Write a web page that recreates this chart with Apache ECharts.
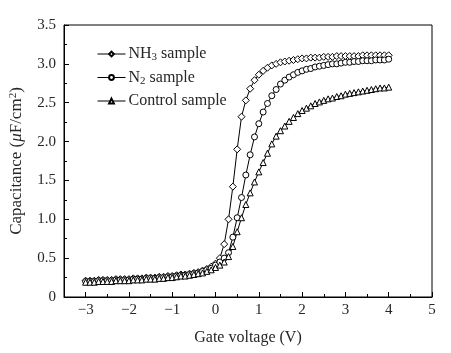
<!DOCTYPE html>
<html>
<head>
<meta charset="utf-8">
<script src="https://cdn.jsdelivr.net/npm/echarts@6/dist/echarts.min.js"></script>
<style>
  html, body { margin: 0; padding: 0; background: #fff; }
  #main { width: 451px; height: 353px; }
</style>
</head>
<body>
<div id="main"></div>
<script>
// gate voltage (V)
var voltages = [
  -3.0, -2.9, -2.8, -2.7, -2.6, -2.5, -2.4, -2.3, -2.2, -2.1,
  -2.0, -1.9, -1.8, -1.7, -1.6, -1.5, -1.4, -1.3, -1.2, -1.1,
  -1.0, -0.9, -0.8, -0.7, -0.6, -0.5, -0.4, -0.3, -0.2, -0.1,
  0.0, 0.1, 0.2, 0.3, 0.4, 0.5, 0.6, 0.7, 0.8, 0.9,
  1.0, 1.1, 1.2, 1.3, 1.4, 1.5, 1.6, 1.7, 1.8, 1.9,
  2.0, 2.1, 2.2, 2.3, 2.4, 2.5, 2.6, 2.7, 2.8, 2.9,
  3.0, 3.1, 3.2, 3.3, 3.4, 3.5, 3.6, 3.7, 3.8, 3.9,
  4.0
];

// capacitance (uF/cm2)
var nh3 = [
  0.21, 0.21, 0.21, 0.22, 0.22, 0.22, 0.22, 0.23, 0.23, 0.23,
  0.23, 0.24, 0.24, 0.24, 0.25, 0.25, 0.25, 0.26, 0.26, 0.27,
  0.27, 0.28, 0.29, 0.29, 0.30, 0.31, 0.32, 0.34, 0.36, 0.39,
  0.43, 0.50, 0.68, 1.00, 1.42, 1.90, 2.32, 2.53, 2.68, 2.79,
  2.86, 2.91, 2.95, 2.98, 3.00, 3.02, 3.03, 3.04, 3.05, 3.06,
  3.07, 3.07, 3.08, 3.08, 3.08, 3.09, 3.09, 3.09, 3.10, 3.10,
  3.10, 3.10, 3.10, 3.10, 3.11, 3.11, 3.11, 3.11, 3.11, 3.11,
  3.11
];
var n2 = [
  0.20, 0.20, 0.20, 0.21, 0.21, 0.21, 0.21, 0.22, 0.22, 0.22,
  0.22, 0.23, 0.23, 0.23, 0.24, 0.24, 0.24, 0.25, 0.25, 0.26,
  0.26, 0.27, 0.28, 0.28, 0.29, 0.30, 0.31, 0.33, 0.35, 0.37,
  0.41, 0.45, 0.50, 0.57, 0.77, 1.02, 1.28, 1.57, 1.83, 2.06,
  2.23, 2.38, 2.49, 2.59, 2.67, 2.74, 2.79, 2.83, 2.86, 2.89,
  2.91, 2.93, 2.94, 2.96, 2.97, 2.98, 2.99, 3.00, 3.00, 3.01,
  3.02, 3.02, 3.03, 3.03, 3.04, 3.04, 3.04, 3.05, 3.05, 3.05,
  3.06
];
var control = [
  0.19, 0.19, 0.19, 0.20, 0.20, 0.20, 0.20, 0.21, 0.21, 0.21,
  0.21, 0.22, 0.22, 0.22, 0.23, 0.23, 0.23, 0.24, 0.24, 0.25,
  0.25, 0.26, 0.27, 0.27, 0.28, 0.29, 0.30, 0.31, 0.33, 0.35,
  0.38, 0.41, 0.45, 0.52, 0.65, 0.84, 1.02, 1.19, 1.34, 1.48,
  1.61, 1.73, 1.85, 1.97, 2.07, 2.14, 2.20, 2.26, 2.31, 2.36,
  2.40, 2.43, 2.46, 2.49, 2.51, 2.53, 2.55, 2.56, 2.58, 2.59,
  2.61, 2.62, 2.63, 2.64, 2.65, 2.66, 2.67, 2.68, 2.69, 2.69,
  2.70
];

var xMajor = [-3, -2, -1, 0, 1, 2, 3, 4, 5];
var xMinor = [-2.5, -1.5, -0.5, 0.5, 1.5, 2.5, 3.5, 4.5];

var font = 'Liberation Serif';
var ink = '#262626';

function pairs(ys) {
  return voltages.map(function (v, i) { return [v, ys[i]]; });
}

function makeSeries(name, ys, symbol, size) {
  return {
    name: name,
    type: 'line',
    data: pairs(ys),
    symbol: symbol,
    symbolSize: size,
    showAllSymbol: true,
    lineStyle: { color: '#000', width: 1 },
    itemStyle: { color: '#fff', borderColor: '#000', borderWidth: 1 },
    animation: false
  };
}

var chart = echarts.init(document.getElementById('main'));

var option = {
  backgroundColor: '#fff',
  animation: false,
  grid: {
    left: 62, right: 19, top: 25, bottom: 56,
    show: true, borderColor: '#000', borderWidth: 1
  },
  legend: {
    orient: 'vertical',
    left: 92, top: 40,
    itemWidth: 28, itemHeight: 6, itemGap: 5.5,
    lineStyle: { width: 1, color: '#000' },
    textStyle: {
      fontFamily: font, fontSize: 16, lineHeight: 18, color: ink, padding: [0, 0, 0, -2],
      rich: {
        sub: { fontFamily: font, fontSize: 11, color: ink, verticalAlign: 'bottom', padding: [7, 0, 0, 0] }
      }
    },
    formatter: function (name) {
      if (name === 'NH3 sample') return 'NH{sub|3} sample';
      if (name === 'N2 sample') return 'N{sub|2} sample';
      return name;
    },
    data: ['NH3 sample', 'N2 sample', 'Control sample']
  },
  xAxis: [{
    type: 'value',
    min: -3.5, max: 5,
    name: 'Gate voltage (V)',
    nameLocation: 'middle',
    nameGap: 33,
    nameTextStyle: { fontFamily: font, fontSize: 16, color: ink },
    axisLine: { lineStyle: { color: '#000' } },
    axisTick: { inside: true, length: 5, customValues: xMajor, lineStyle: { color: '#000' } },
    axisLabel: {
      customValues: xMajor,
      fontFamily: font, fontSize: 15, color: ink, margin: 6,
      formatter: function (v) { return String(v).replace('-', '\u2212'); }
    },
    splitLine: { show: false }
  }, {
    type: 'value',
    position: 'bottom',
    min: -3.5, max: 5,
    axisLine: { show: false },
    axisTick: { inside: true, length: 3, customValues: xMinor, lineStyle: { color: '#000' } },
    axisLabel: { show: false },
    splitLine: { show: false }
  }],
  yAxis: {
    type: 'value',
    min: 0, max: 3.5, interval: 0.5,
    name: 'Capacitance ({i|\u03bc}F/cm{sup|2})',
    nameLocation: 'middle',
    nameGap: 38,
    nameTextStyle: {
      fontFamily: font, fontSize: 17, color: ink,
      rich: {
        i: { fontFamily: font, fontSize: 17, fontStyle: 'italic', color: ink },
        sup: { fontFamily: font, fontSize: 11, color: ink, verticalAlign: 'top', padding: [0, 0, 7, 0] }
      }
    },
    axisLine: { show: true, onZero: false, lineStyle: { color: '#000' } },
    axisTick: { show: true, inside: true, length: 5, lineStyle: { color: '#000' } },
    minorTick: { show: true, splitNumber: 2, length: 3, lineStyle: { color: '#000' } },
    axisLabel: {
      fontFamily: font, fontSize: 15, color: ink, margin: 8,
      formatter: function (v) { return v === 0 ? '0' : v.toFixed(1); }
    },
    splitLine: { show: false }
  },
  series: [
    makeSeries('NH3 sample', nh3, 'path://M0,-1L1,0L0,1L-1,0Z', 7),
    makeSeries('N2 sample', n2, 'circle', 6),
    makeSeries('Control sample', control, 'triangle', 6)
  ]
};

chart.setOption(option);
</script>
</body>
</html>
